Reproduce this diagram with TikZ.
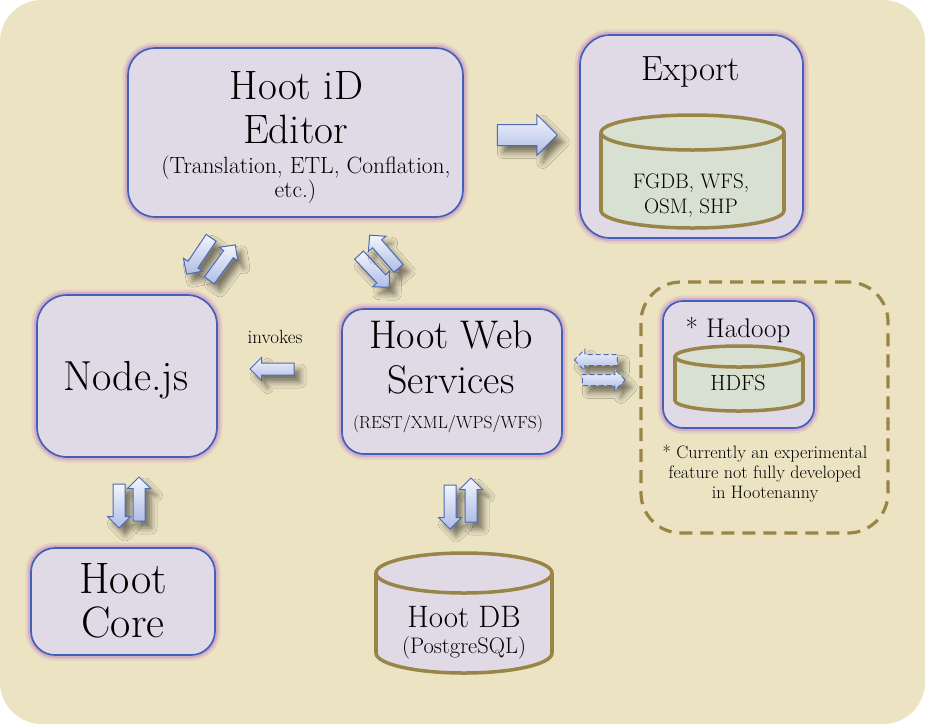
\documentclass[tikz,border=0pt]{standalone}
\usepackage{fontspec}
\usetikzlibrary{shapes.arrows,shadows.blur}
\definecolor{bgtan}{HTML}{ECE3C3}
\definecolor{boxfill}{HTML}{E0DAE6}
\definecolor{boxblue}{HTML}{4460B6}
\definecolor{glow}{HTML}{C893C4}
\definecolor{cylline}{HTML}{9A8549}
\definecolor{cylfill}{HTML}{D8E0D1}
\definecolor{arrline}{HTML}{4E69B6}
\definecolor{arrlight}{HTML}{F3F5FC}
\definecolor{arrdark}{HTML}{AFBDE6}
\newcommand{\fsz}[2]{\fontsize{#1}{#2}\selectfont}
\tikzset{
  box/.style={rectangle, draw=boxblue, line width=1.7pt, fill=boxfill, inner sep=0pt,
    preaction={draw=glow, line width=11pt, opacity=0.25},
    preaction={draw=glow, line width=6pt, opacity=0.55}},
  txt/.style={inner sep=0pt, anchor=base, text=black},
  barrow/.style={single arrow, draw=arrline, line width=1pt,
    top color=arrlight, bottom color=arrdark, inner xsep=0pt,
    single arrow head indent=0pt,
    blur shadow={shadow xshift=6pt, shadow yshift=-7pt, shadow blur radius=6pt, shadow opacity=50}},
  bigarrow/.style={barrow, minimum height=60pt, inner ysep=10pt, single arrow head extend=10pt},
  smallarrow/.style={barrow, minimum height=44pt, inner ysep=5.5pt, single arrow head extend=5.5pt},
  dasharrow/.style={barrow, dash pattern=on 5pt off 3pt, minimum height=43pt, inner ysep=5pt,
      single arrow head extend=5pt},
  cylstroke/.style={draw=cylline, line width=3.5pt},
}
\begin{document}
\begin{tikzpicture}[x=1pt,y=-1pt]
\useasboundingbox (0,0) rectangle (925,724);
\fill[white] (0,0) rectangle (925,724);
\fill[bgtan, rounded corners=42pt] (0,0) rectangle (925,724);

% ---------- boxes ----------
\node[box, rounded corners=27pt, minimum width=335pt, minimum height=169pt] (editor) at (295.5,132.5) {};
\node[box, rounded corners=30pt, minimum width=223pt, minimum height=203pt] (export) at (691.5,136.5) {};
\node[box, rounded corners=30pt, minimum width=180pt, minimum height=162pt] (nodejs) at (127,376) {};
\node[box, rounded corners=22pt, minimum width=220pt, minimum height=145pt] (web) at (452,381.5) {};
\node[box, rounded corners=24pt, minimum width=184pt, minimum height=107pt] (core) at (123,601.5) {};
\node[draw=cylline, line width=3.2pt, dash pattern=on 13pt off 8pt, rounded corners=40pt,
      minimum width=247pt, minimum height=251pt, inner sep=0pt] (hadoopgroup) at (764.5,407.5) {};
\node[box, rounded corners=20pt, minimum width=151pt, minimum height=127pt] (hadoop) at (738.5,364.5) {};

% ---------- cylinders ----------
\fill[cylfill] (692.5,210.5) ellipse [x radius=91.5pt, y radius=17.5pt];
\draw[cylstroke] (692.5,210.5) ellipse [x radius=91.5pt, y radius=17.5pt];
\fill[cylfill] (601,132.5) rectangle (784,210.5);
\draw[cylstroke] (601,132.5) -- (601,210.5) (784,132.5) -- (784,210.5);
\draw[cylstroke, fill=cylfill] (692.5,132.5) ellipse [x radius=91.5pt, y radius=17.5pt];

\fill[cylfill] (739,400.5) ellipse [x radius=64pt, y radius=10.5pt];
\draw[cylstroke] (739,400.5) ellipse [x radius=64pt, y radius=10.5pt];
\fill[cylfill] (675,356.5) rectangle (803,400.5);
\draw[cylstroke] (675,356.5) -- (675,400.5) (803,356.5) -- (803,400.5);
\draw[cylstroke, fill=cylfill] (739,356.5) ellipse [x radius=64pt, y radius=10.5pt];

\fill[boxfill] (464,653) ellipse [x radius=88pt, y radius=20pt];
\draw[cylstroke] (464,653) ellipse [x radius=88pt, y radius=20pt];
\fill[boxfill] (376,573) rectangle (552,653);
\draw[cylstroke] (376,573) -- (376,653) (552,573) -- (552,653);
\draw[cylstroke, fill=boxfill] (464,573) ellipse [x radius=88pt, y radius=20pt];

% ---------- texts ----------
\node[txt, font=\fsz{41}{44}] (editorT1) at (296.5,99) {Hoot iD};
\node[txt, font=\fsz{41}{44}] (editorT2) at (295.5,143) {Editor};
\node[txt, font=\fsz{23.5}{24}] (editorT3) at (306,173) {(Translation, ETL, Conflation,};
\node[txt, font=\fsz{23.5}{24}] (editorT4) at (295.5,197) {etc.)};

\node[txt, font=\fsz{35}{38}] (exportT) at (691,80) {Export};
\node[txt, font=\fsz{21}{25}] (exportT2) at (691,188) {FGDB, WFS,};
\node[txt, font=\fsz{21}{25}] (exportT3) at (691,213) {OSM, SHP};

\node[txt, font=\fsz{42}{46}] (nodejsT) at (126,390) {Node.js};

\node[txt, font=\fsz{40}{44}] (webT1) at (451,348) {Hoot Web};
\node[txt, font=\fsz{40}{44}] (webT2) at (451,393) {Services};
\node[txt, font=\fsz{17.5}{20}] (webT3) at (448,428) {(REST/XML/WPS/WFS)};

\node[txt, font=\fsz{44}{44}] (coreT1) at (123,593) {Hoot};
\node[txt, font=\fsz{44}{44}] (coreT2) at (123,637) {Core};

\node[txt, font=\fsz{31}{34}] (dbT1) at (464,627) {Hoot DB};
\node[txt, font=\fsz{22.5}{25}] (dbT2) at (464,653) {(PostgreSQL)};

\node[txt, font=\fsz{27}{30}] (hadoopT) at (738,337) {* Hadoop};
\node[txt, font=\fsz{22}{25}] (hdfsT) at (738,390) {HDFS};

\node[txt, font=\fsz{18}{20}] (noteT1) at (765,458) {* Currently an experimental};
\node[txt, font=\fsz{18}{20}] (noteT2) at (765,478) {feature not fully developed};
\node[txt, font=\fsz{18}{20}] (noteT3) at (765,498) {in Hootenanny};

\node[txt, font=\fsz{19}{20}] (invokesT) at (275,343) {invokes};

% ---------- block arrows ----------
\node[bigarrow] (toexport) at (522,135) {};
\node[barrow, minimum height=44pt, inner ysep=5.5pt, single arrow head extend=5.5pt, rotate=180] (invokes) at (275,369) {};

\node[smallarrow, rotate=236] (edToNode) at (200.5,253.5) {};
\node[smallarrow, rotate=53.7] (nodeToEd) at (220.5,265) {};
\node[smallarrow, rotate=-46.8] (edToWeb) at (372,269) {};
\node[smallarrow, rotate=131] (webToEd) at (386,254) {};

\node[smallarrow, rotate=-90] (nodeToCore) at (119,503) {};
\node[smallarrow, rotate=90] (coreToNode) at (139,502) {};
\node[smallarrow, rotate=-90] (webToDb) at (450,504) {};
\node[smallarrow, rotate=90] (dbToWeb) at (471,503) {};

\node[dasharrow, rotate=180] (hadToWeb) at (598.5,360) {};
\node[dasharrow] (webToHad) at (601,380) {};
\end{tikzpicture}
\end{document}
